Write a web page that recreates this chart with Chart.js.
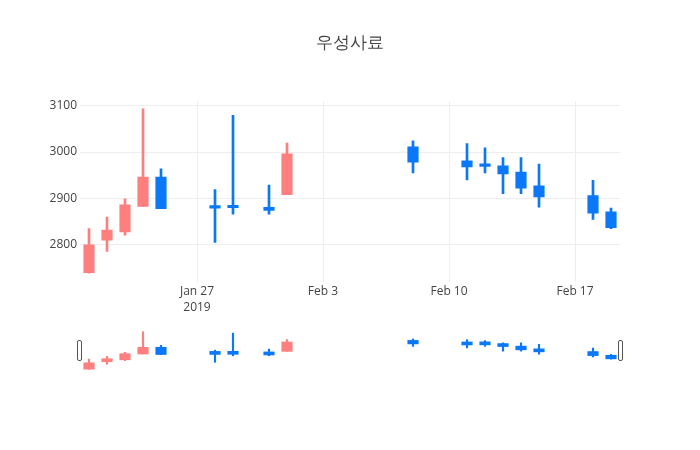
<!DOCTYPE html>
<html>
<head>
<meta charset="utf-8">
<script src="https://cdn.jsdelivr.net/npm/chart.js@4"></script>
<style>
  html, body { margin: 0; padding: 0; background: #fff; }
  #wrap { position: relative; width: 700px; height: 450px; }
  #main { position: absolute; left: 0; top: 0; }
  #slider { position: absolute; left: 0; top: 325px; }
</style>
</head>
<body>
<div id="wrap">
  <canvas id="main" width="700" height="450"></canvas>
  <canvas id="slider" width="700" height="50"></canvas>
</div>
<script>
// 우성사료 daily candles
const dates = ['2019-01-21', '2019-01-22', '2019-01-23', '2019-01-24', '2019-01-25',
    '2019-01-28', '2019-01-29', '2019-01-31', '2019-02-01', '2019-02-08',
    '2019-02-11', '2019-02-12', '2019-02-13', '2019-02-14', '2019-02-15',
    '2019-02-18', '2019-02-19']
const openVals = [2740, 2810, 2828, 2883, 2946, 2882, 2882, 2881, 2908, 3011, 2981, 2972, 2970, 2957, 2927, 2906, 2871]
const highVals = [2835, 2860, 2899, 3093, 2964, 2919, 3079, 2929, 3019, 3024, 3018, 3009, 2988, 2988, 2974, 2939, 2879]
const lowVals = [2739, 2786, 2821, 2883, 2878, 2805, 2866, 2866, 2908, 2955, 2940, 2955, 2910, 2910, 2881, 2855, 2835]
const closeVals = [2800, 2832, 2886, 2946, 2878, 2879, 2880, 2874, 2996, 2978, 2968, 2969, 2953, 2922, 2903, 2868, 2837]
const tickDates = ['2019-01-27', '2019-02-03', '2019-02-10', '2019-02-17']
const yTicks = [2800, 2900, 3000, 3100]

const UP = '#ff7f7f'
const DOWN = '#0a78f8'
const DAY = 86400000
const base = Date.parse(tickDates[0])
const MONTHS = ['Jan', 'Feb', 'Mar', 'Apr', 'May', 'Jun', 'Jul', 'Aug', 'Sep', 'Oct', 'Nov', 'Dec']

function dayNum(d) {
    return Math.round((Date.parse(d) - base) / DAY)
}

function tickLabel(v, i) {
    let d = new Date(base + v * DAY)
    let s = MONTHS[d.getUTCMonth()] + ' ' + d.getUTCDate()
    return i === 0 ? [s, String(d.getUTCFullYear())] : s
}

const xs = dates.map(dayNum)
const bodies = xs.map((x, i) => ({x: x, y: [openVals[i], closeVals[i]]}))
const wicks = xs.map((x, i) => ({x: x, y: [lowVals[i], highVals[i]]}))
const colors = xs.map((x, i) => closeVals[i] >= openVals[i] ? UP : DOWN)
const xMin = xs[0] - 0.5
const xMax = xs[xs.length - 1] + 0.5

Chart.defaults.font.family = '"Open Sans", sans-serif'
Chart.defaults.color = '#444'

function candleSets(wickWidth, minLen) {
    return [{
            label: 'wick',
            data: wicks,
            backgroundColor: colors,
            barThickness: wickWidth,
            borderWidth: 0
        }, {
            label: 'body',
            data: bodies,
            backgroundColor: colors,
            barThickness: 10.5,
            minBarLength: minLen,
            borderWidth: 0
        }]
}

new Chart(document.getElementById('main').getContext('2d'), {
    type: 'bar',
    data: {datasets: candleSets(2, 2.5)},
    options: {
        responsive: false,
        animation: false,
        datasets: {bar: {grouped: false}},
        layout: {padding: 0},
        plugins: {
            legend: {display: false},
            tooltip: {enabled: false},
            title: {
                display: true,
                text: '우성사료',
                font: {size: 17, weight: 'normal'},
                color: '#444',
                padding: {top: 33, bottom: 48}
            }
        },
        scales: {
            x: {
                type: 'linear',
                min: xMin,
                max: xMax,
                offset: false,
                afterBuildTicks: s => { s.ticks = tickDates.map(d => ({value: dayNum(d)})) },
                afterFit: s => { s.height = 168 },
                grid: {color: '#eee', drawTicks: false, offset: false},
                border: {display: false},
                ticks: {
                    padding: 1,
                    maxRotation: 0,
                    font: {size: 12, lineHeight: 1.35},
                    callback: (v, i) => tickLabel(v, i)
                }
            },
            y: {
                min: 2720,
                max: 3109,
                afterBuildTicks: s => { s.ticks = yTicks.map(v => ({value: v})) },
                afterFit: s => { s.width = 80 },
                grid: {color: '#eee', drawTicks: false},
                border: {display: false},
                ticks: {padding: 3, font: {size: 12}, callback: v => String(v)}
            },
            yRight: {
                position: 'right',
                afterFit: s => { s.width = 80 },
                grid: {display: false},
                border: {display: false},
                ticks: {display: false}
            }
        }
    }
})

// range slider handles
const handles = {
    id: 'handles',
    afterDraw(chart) {
        const ctx = chart.ctx
        const a = chart.chartArea
        ctx.save()
        ctx.strokeStyle = '#555'
        ctx.fillStyle = '#fff'
        ctx.lineWidth = 1
        for (const x of [a.left - 2.5, a.right - 1.5]) {
            ctx.beginPath()
            ctx.roundRect(x, 15.5, 4, 20, 1.5)
            ctx.fill()
            ctx.stroke()
        }
        ctx.restore()
    }
}

new Chart(document.getElementById('slider').getContext('2d'), {
    type: 'bar',
    data: {datasets: candleSets(1.5, 3)},
    options: {
        responsive: false,
        animation: false,
        datasets: {bar: {grouped: false}},
        layout: {padding: {left: 80, right: 80, top: 0, bottom: 0}},
        plugins: {legend: {display: false}, tooltip: {enabled: false}},
        scales: {
            x: {type: 'linear', min: xMin, max: xMax, offset: false, display: false},
            y: {min: 2685, max: 3156, display: false}
        }
    },
    plugins: [handles]
})
</script>
</body>
</html>
